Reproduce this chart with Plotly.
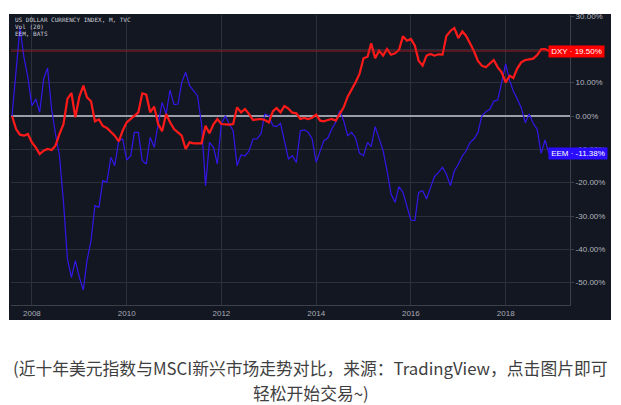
import pandas as pd
import plotly.graph_objects as go

# Monthly closes, % change vs. first bar (Aug 2007) ... Dec 2018
start_month = "2007-08-01"
dxy_pct = [
    0.0, -3.9, -5.6, -5.9, -5.4,
    -7.9, -9.5, -11.4, -10.4, -9.9, -10.2, -8.9, -5.4, -2.4, 5.1,
    6.9, -0.4, 5.8, 9.1, 5.6, 4.4, -1.6, -1.0, -3.0, -3.6,
    -4.9, -5.9, -7.6, -4.4, -1.9, -0.8, 0.3, 1.1, 6.8, 6.4,
    1.1, 2.8, -2.4, -4.6, 0.6, -1.9, -3.9, -4.9, -5.9, -9.9,
    -7.9, -8.2, -8.2, -8.2, -2.9, -5.2, -2.5, -0.9, -2.4, -2.5,
    -2.6, -2.4, 2.6, 1.1, 2.1, 0.6, -1.2, -1.0, -0.9, -1.2,
    -1.9, 1.4, 2.4, 1.1, 3.0, 2.2, 1.0, 0.8, -0.9, -0.6,
    -0.9, -0.5, 0.4, -1.4, -1.6, -1.2, -0.9, -1.4, 0.6, 2.6,
    5.8, 7.8, 10.1, 12.6, 17.3, 17.8, 21.8, 17.3, 19.6, 18.1,
    20.1, 18.4, 18.8, 19.8, 23.9, 22.6, 23.1, 21.1, 16.6, 15.1,
    18.1, 18.6, 18.1, 18.5, 18.4, 24.0, 25.5, 26.4, 23.4, 25.4,
    24.1, 21.8, 19.5, 16.5, 15.1, 14.6, 15.8, 16.8, 14.6, 13.1,
    10.1, 12.1, 11.4, 14.3, 16.1, 16.8, 17.0, 17.2, 18.3, 20.0,
    20.1, 19.5,
]
eem_pct = [
    0.0, 12.6, 26.5, 17.6, 11.6,
    3.1, 5.1, 1.1, 11.1, 14.4, 2.1, -5.4, -12.0, -26.0, -42.9,
    -48.4, -43.4, -48.4, -52.2, -43.4, -37.4, -26.9, -27.4, -19.4, -19.9,
    -12.4, -14.9, -7.4, -6.9, -13.2, -11.9, -4.9, -4.9, -13.4, -14.4,
    -6.4, -9.4, -2.4, 4.1, 0.6, 7.8, 3.4, 3.6, 10.1, 13.1,
    9.1, 7.4, 6.1, -2.4, -20.9, -7.9, -9.4, -14.4, -2.4, 0.1,
    -2.4, -4.4, -14.9, -11.6, -12.0, -10.5, -6.9, -6.9, -5.4, 0.6,
    0.1, -2.9, -3.2, -2.2, -7.5, -12.9, -11.9, -13.9, -4.4, -4.2,
    -4.9, -6.9, -13.9, -10.2, -7.4, -6.6, -3.9, -1.9, 1.6, -1.4,
    -5.9, -4.9, -6.6, -11.2, -11.9, -7.9, -9.2, -3.2, -6.9, -10.4,
    -16.4, -23.4, -25.9, -21.2, -22.9, -27.4, -31.2, -31.4, -22.9, -22.4,
    -24.9, -21.4, -18.2, -16.9, -15.4, -17.5, -20.9, -16.5, -14.5, -12.0,
    -10.5, -8.0, -6.9, -5.0, 0.0, 1.3, 2.0, 4.4, 4.8, 10.0,
    15.6, 10.6, 7.5, 5.0, 2.5, -2.0, 0.6, -2.2, -4.0, -11.2,
    -7.2, -11.38,
]
x_tick_vals = ["2008-01-01", "2010-01-01", "2012-01-01", "2014-01-01", "2016-01-01", "2018-01-01"]
x_tick_text = ["2008", "2010", "2012", "2014", "2016", "2018"]
y_tick_vals = [30, 20, 10, 0, -10, -20, -30, -40, -50]
# the 20.00% label sits fully under the DXY price tag in the reference
y_tick_text = ["30.00%", "", "10.00%", "0.00%", "-10.00%", "-20.00%", "-30.00%", "-40.00%", "-50.00%"]
legend_lines = ["US DOLLAR CURRENCY INDEX, M, TVC", "Vol (20)", "EEM, BATS"]
dxy_label = "DXY · 19.50%"
eem_label = "EEM · -11.38%"
caption_1 = "(近十年美元指数与MSCI新兴市场走势对比，来源：TradingView，点击图片即可"
caption_2 = "轻松开始交易~)"

dates = pd.date_range(start_month, periods=len(dxy_pct), freq="MS")

W, H = 621, 405
L, R, T, B = 11, 51, 15, 100
pw, ph = W - L - R, H - T - B

def px_x(px):
    return (px - L) / pw

def px_y(py):
    return (H - B - py) / ph

BG = "#131722"
RED = "#ff1a1a"
BLUE = "#3515e8"

fig = go.Figure()
fig.add_trace(go.Scatter(x=dates, y=eem_pct, mode="lines",
                         line=dict(color=BLUE, width=1.2), hoverinfo="skip"))
fig.add_trace(go.Scatter(x=dates, y=dxy_pct, mode="lines",
                         line=dict(color=RED, width=2.2), hoverinfo="skip"))

shapes = [
    dict(type="rect", xref="paper", yref="paper", layer="below",
         x0=px_x(9), x1=px_x(611), y0=px_y(320), y1=px_y(14),
         fillcolor=BG, line=dict(width=0)),
    dict(type="line", xref="paper", yref="y", x0=0, x1=px_x(548),
         y0=dxy_pct[-1], y1=dxy_pct[-1],
         line=dict(color="rgba(190,25,25,0.8)", width=1)),
]

annotations = []
for i, t in enumerate(legend_lines):
    annotations.append(dict(xref="paper", yref="paper", x=px_x(13), y=px_y(19.5 + 7 * i),
                            xanchor="left", yanchor="middle", showarrow=False, text=t,
                            font=dict(family="DejaVu Sans Mono", size=6, color="#c9ccd4")))
annotations.append(dict(xref="paper", yref="y", x=px_x(548), y=dxy_pct[-1],
                        xanchor="left", yanchor="middle", showarrow=False, text=dxy_label,
                        bgcolor="#ff0000", borderpad=1, width=53,
                        font=dict(family="Liberation Sans", size=8, color="#ffffff")))
annotations.append(dict(xref="paper", yref="y", x=px_x(548), y=eem_pct[-1],
                        xanchor="left", yanchor="middle", showarrow=False, text=eem_label,
                        bgcolor="#2a0cff", borderpad=1, width=56,
                        font=dict(family="Liberation Sans", size=8, color="#ffffff")))
annotations.append(dict(xref="paper", yref="paper", x=px_x(310.5), y=px_y(368),
                        xanchor="center", yanchor="middle", showarrow=False, text=caption_1,
                        font=dict(family="Noto Sans CJK SC", size=16.8, color="#3f3f3f")))
annotations.append(dict(xref="paper", yref="paper", x=px_x(310.5), y=px_y(393),
                        xanchor="center", yanchor="middle", showarrow=False, text=caption_2,
                        font=dict(family="Noto Sans CJK SC", size=16.8, color="#3f3f3f")))

fig.update_layout(
    width=W, height=H, autosize=False,
    margin=dict(l=L, r=R, t=T, b=B, pad=0),
    paper_bgcolor="#ffffff", plot_bgcolor=BG,
    showlegend=False,
    shapes=shapes, annotations=annotations,
    xaxis=dict(type="date", range=["2007-07-24", "2019-05-12"],
               tickvals=x_tick_vals, ticktext=x_tick_text,
               showgrid=True, gridcolor="#2c303b", gridwidth=1,
               showline=True, linecolor="#3c404b", linewidth=1,
               ticks="", zeroline=False,
               tickfont=dict(family="Liberation Sans", size=8, color="#a9acb5")),
    yaxis=dict(side="right", range=[-56.7, 30.3],
               tickvals=y_tick_vals, ticktext=y_tick_text,
               showgrid=True, gridcolor="#2c303b", gridwidth=1,
               zeroline=True, zerolinecolor="#9a9ea8", zerolinewidth=1.5,
               showline=True, linecolor="#3c404b", linewidth=1,
               ticks="outside", ticklen=3, tickcolor="#3c404b",
               tickfont=dict(family="Liberation Sans", size=8, color="#b2b5be")),
)

fig.write_html("out.html", config={"displayModeBar": False, "staticPlot": True},
               post_script="document.body.style.margin='0';document.body.style.overflow='hidden';")
